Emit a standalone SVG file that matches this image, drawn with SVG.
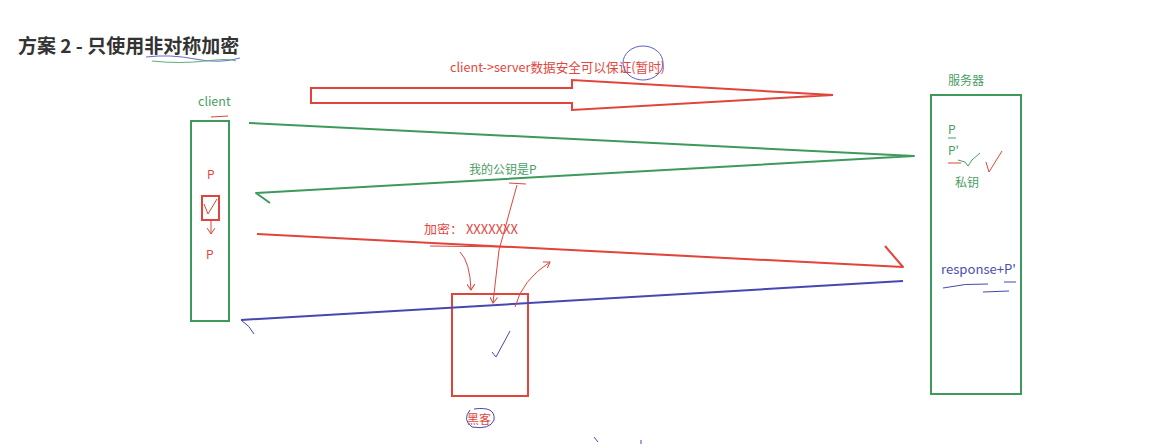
<svg xmlns="http://www.w3.org/2000/svg" width="1158" height="445" viewBox="0 0 1158 445">
<style>
text{font-family:"Noto Sans CJK SC","Noto Sans",sans-serif}
.g{fill:#4a9e66}.r{fill:#e3463e}.b{fill:#4b4fb0}
.gs{stroke:#3d9a5c;fill:none;stroke-width:2}
.rs{stroke:#e0443a;fill:none;stroke-width:2}
.bs{stroke:#4548b0;fill:none;stroke-width:2}
.thin{stroke-width:1}
</style>
<defs>
<marker id="ah" markerWidth="8" markerHeight="8" refX="6" refY="4" orient="auto" markerUnits="userSpaceOnUse"><path d="M0,0 L6,4 L0,8" fill="none" stroke="#e0443a" stroke-width="1"/></marker>
</defs>
<rect width="1158" height="445" fill="#fff"/>
<g id="title">
<text x="18" y="53" font-size="19" font-weight="bold" fill="#333">方案 2 - 只使用非对称加密</text>
<path d="M146,57 Q170,54 195,59 T240,58" stroke="#6a6ad0" fill="none" stroke-width="1"/>
<path d="M152,61 Q180,64 205,61 T236,61" stroke="#5ab07a" fill="none" stroke-width="1"/>
</g>
<g id="top-arrow">
<path d="M311,88 L572,88 L572,80 L833,95 L572,110 L572,103 L311,103 Z" class="rs"/>
<text x="450" y="72" font-size="13" class="r" textLength="215" lengthAdjust="spacingAndGlyphs">client-&gt;server数据安全可以保证(暂时)</text>
<ellipse cx="643" cy="63" rx="20" ry="17" fill="none" stroke="#5a60c0" stroke-width="1"/>
</g>
<g id="client">
<text x="198" y="106" font-size="12.5" class="g">client</text>
<path d="M211,117 L228,116" class="rs thin"/>
<rect x="191" y="121" width="38" height="200" class="gs"/>
<text x="207" y="179" font-size="12" class="r">P</text>
<rect x="202" y="196" width="17" height="24" class="rs"/>
<path d="M204,204 L208,214 L217,199" class="rs thin"/>
<path d="M211,221 L211,234" class="rs thin" marker-end="url(#ah)"/>
<text x="206" y="259" font-size="12" class="r">P</text>
</g>
<g id="server">
<text x="948" y="85" font-size="12" class="g">服务器</text>
<rect x="931" y="95" width="90" height="299" class="gs"/>
<text x="948" y="134" font-size="12" class="g">P</text>
<path d="M948,138 L956,138" stroke="#4a9e66" stroke-width="1"/>
<text x="948" y="155" font-size="12" class="g">P'</text>
<path d="M948,163 L961,163" class="rs thin"/>
<path d="M958,160 L965,162 L968,166 L972,160 L980,153" stroke="#4a9e66" fill="none" stroke-width="1"/>
<path d="M986,162 L989,172 L1002,151" class="rs thin"/>
<text x="955" y="187" font-size="12" class="g">私钥</text>
<text x="941" y="274" font-size="13" class="b" textLength="75" lengthAdjust="spacingAndGlyphs">response+P'</text>
<path d="M943,288 Q965,283 988,284" class="bs thin"/>
<path d="M983,292 L1009,291" class="bs thin"/>
<path d="M1004,282 L1016,282" class="bs thin"/>
</g>
<g id="hacker">
<rect x="452" y="294" width="76" height="102" class="rs"/>
<path d="M492,352 L496,357 L510,331" class="bs thin"/>
<text x="467" y="424" font-size="12" class="r">黑客</text>
<path d="M474,409 Q496,406 494,420 Q490,430 472,427 Q462,420 470,410" class="bs thin"/>
</g>
<g id="connectors">
<path d="M249,123 L914,156 L256,193 L270,203" class="gs" stroke-linejoin="round"/>
<text x="469" y="174" font-size="12" class="g">我的公钥是P</text>
<path d="M509,183 L526,184" class="rs thin"/>
<path d="M257,234 L903,267 L885,246" class="rs" stroke-linejoin="round"/>
<text x="424" y="234" font-size="12.5" class="r" textLength="94" lengthAdjust="spacingAndGlyphs">加密： XXXXXXX</text>
<path d="M430,246 L510,247" class="rs thin"/>
<path d="M241,320 L903,281" class="bs"/>
<path d="M241,320 Q250,326 254,334" class="bs thin"/>
<path d="M517,185 L499,250 L493,303" class="rs thin" marker-end="url(#ah)"/>
<path d="M460,252 Q470,262 471,290" class="rs thin" marker-end="url(#ah)"/>
<path d="M515,307 Q522,280 550,262" class="rs thin" marker-end="url(#ah)"/>
<path d="M594,437 L598,442" class="bs thin"/>
<path d="M641,440 L641,444" class="bs thin"/>
</g>
</svg>
